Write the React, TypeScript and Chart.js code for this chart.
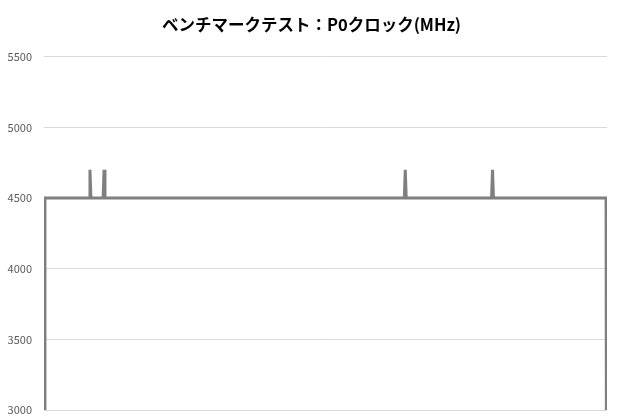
import { useEffect, useRef } from 'react';
import { Chart, ChartConfiguration, registerables } from 'chart.js';

Chart.register(...registerables);

// Sample index along the log and the P0 clock reading at that sample (MHz)
const sampleIdx = [0, 1, 48, 49, 50, 63, 64, 65, 384, 385, 386, 477, 478, 479, 599, 600];
const clockMHz = [0, 4500, 4500, 4700, 4500, 4500, 4700, 4500, 4500, 4700, 4500, 4500, 4700, 4500, 4500, 0];

const chartTitle = 'ベンチマークテスト：P0クロック(MHz)';
const yMin = 3000;
const yMax = 5500;
const yStep = 500;

export default function App() {
  const canvasRef = useRef<HTMLCanvasElement>(null);
  const chartInstance = useRef<Chart | null>(null);

  useEffect(() => {
    if (!canvasRef.current) return;
    if (chartInstance.current) chartInstance.current.destroy();

    const points = sampleIdx.map((x, i) => ({ x, y: clockMHz[i] }));

    const config: ChartConfiguration = {
      type: 'line',
      data: {
        datasets: [
          {
            label: 'P0クロック',
            data: points,
            borderColor: '#7f7f7f',
            borderWidth: 3,
            pointRadius: 0,
            tension: 0,
            fill: false,
          },
        ],
      },
      options: {
        responsive: true,
        maintainAspectRatio: false,
        animation: false,
        layout: {
          padding: { left: 3, right: 0, top: 0, bottom: 0 },
        },
        plugins: {
          legend: { display: false },
          tooltip: { enabled: false },
          title: {
            display: true,
            text: chartTitle,
            color: '#000000',
            font: { family: '"Noto Sans CJK JP", sans-serif', size: 16.5, weight: 'bold' },
            padding: { top: 15, bottom: 22 },
          },
        },
        scales: {
          x: {
            type: 'linear',
            min: sampleIdx[0],
            max: sampleIdx[sampleIdx.length - 1],
            display: false,
          },
          y: {
            min: yMin,
            max: yMax,
            afterFit: (scale) => {
              scale.width = 41;
              scale.paddingTop = 6;
              scale.paddingBottom = 10;
            },
            border: { display: false },
            grid: {
              color: '#d9d9d9',
              drawTicks: false,
            },
            ticks: {
              stepSize: yStep,
              padding: 12,
              color: '#595959',
              font: { family: '"Noto Sans CJK JP", sans-serif', size: 11 },
              callback: (value) => String(value),
            },
          },
          // empty margin on the right so the plot ends where the reference does
          yRight: {
            position: 'right',
            min: yMin,
            max: yMax,
            afterFit: (scale) => {
              scale.width = 13;
              scale.paddingTop = 0;
              scale.paddingBottom = 0;
            },
            border: { display: false },
            grid: { display: false, drawTicks: false },
            ticks: { display: false },
          },
        },
      },
    };

    chartInstance.current = new Chart(canvasRef.current, config);

    return () => {
      if (chartInstance.current) {
        chartInstance.current.destroy();
        chartInstance.current = null;
      }
    };
  }, []);

  return (
    <div style={{ position: 'fixed', left: 0, top: 0, width: 620, height: 420, background: '#ffffff' }}>
      <canvas ref={canvasRef}></canvas>
    </div>
  );
}
